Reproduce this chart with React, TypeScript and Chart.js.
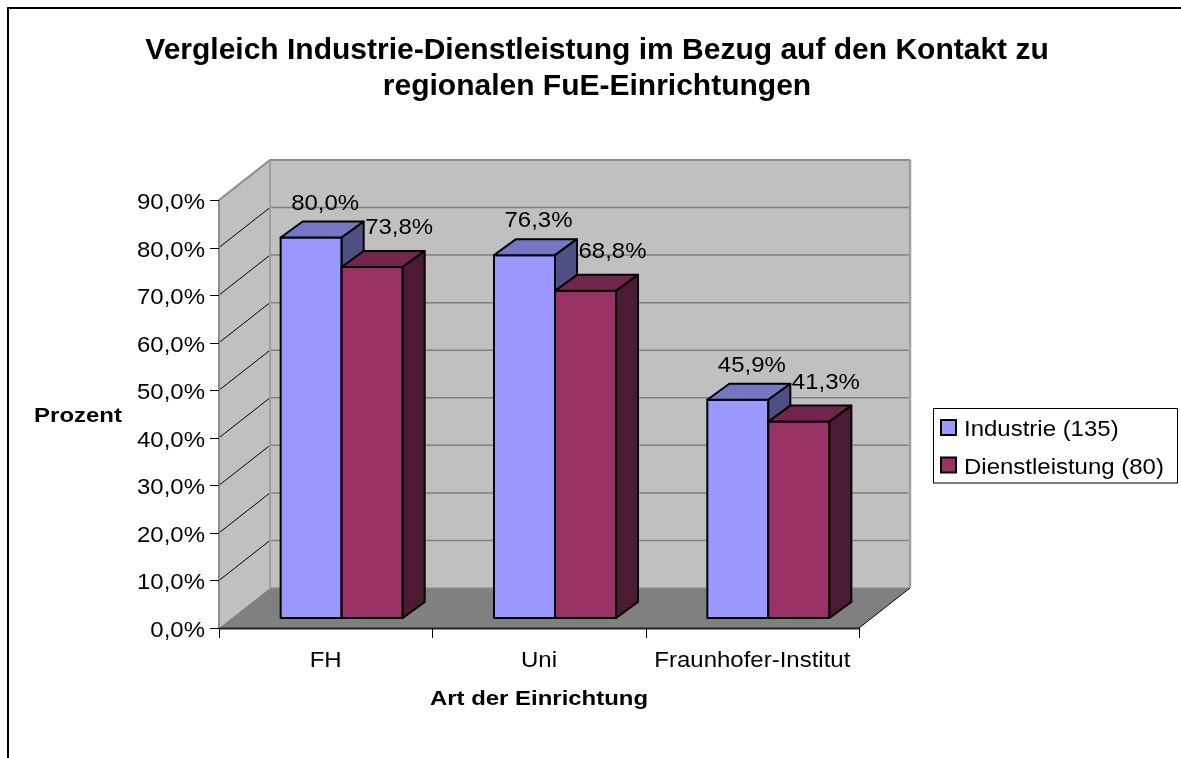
import React, { useEffect, useRef } from 'react';
import { Chart, registerables } from 'chart.js';

Chart.register(...registerables);

// ---------------- data ----------------
const TITLE_LINES = [
  'Vergleich Industrie-Dienstleistung im Bezug auf den Kontakt zu',
  'regionalen FuE-Einrichtungen',
];
const CATEGORIES = ['FH', 'Uni', 'Fraunhofer-Institut'];
const SERIES_NAMES = ['Industrie (135)', 'Dienstleistung (80)'];
const INDUSTRIE = [80.0, 76.3, 45.9];
const DIENSTLEISTUNG = [73.8, 68.8, 41.3];
const Y_MIN = 0;
const Y_MAX = 90;
const Y_STEP = 10;
const X_TITLE = 'Art der Einrichtung';
const Y_TITLE = 'Prozent';

// ---------------- style ----------------
const W = 1181;
const H = 758;
const FONT = '"Liberation Sans", Arial, Helvetica, sans-serif';
const FACES = [
  { front: '#9999FF', top: '#7676C4', side: '#4F4F85' },
  { front: '#993366', top: '#73264C', side: '#4B1A33' },
];
const WALL = '#C0C0C0';
const FLOOR = '#808080';
const WALL_EDGE = '#8C8C8C';
const DEPTH_X = 51;
const DEPTH_Y = -40;
const BAR_SHIFT_X = 16;
const BAR_SHIFT_Y = -10;
const BAR_DEPTH_X = 22;
const BAR_DEPTH_Y = -16;
const LABEL_DX = [14, 27];
const LABEL_DY = [-28, -33];
const TEXT_SIZE = 22;
const TEXT_SX = 1.09;

const fmt = (v: number) => v.toFixed(1).replace('.', ',') + '%';

function drawText(
  ctx: CanvasRenderingContext2D,
  s: string,
  x: number,
  y: number,
  size: number,
  bold: boolean,
  align: 'left' | 'center' | 'right',
  sx: number
) {
  ctx.save();
  ctx.font = `${bold ? 'bold ' : ''}${size}px ${FONT}`;
  ctx.fillStyle = '#000';
  ctx.textBaseline = 'alphabetic';
  ctx.textAlign = 'left';
  const w = ctx.measureText(s).width * sx;
  const x0 = align === 'center' ? x - w / 2 : align === 'right' ? x - w : x;
  ctx.translate(x0, y);
  ctx.scale(sx, 1);
  ctx.fillText(s, 0, 0);
  ctx.restore();
}

function poly(
  ctx: CanvasRenderingContext2D,
  pts: number[][],
  fill: string | null,
  stroke: string | null,
  lw = 1
) {
  ctx.beginPath();
  pts.forEach((p, i) => (i === 0 ? ctx.moveTo(p[0], p[1]) : ctx.lineTo(p[0], p[1])));
  ctx.closePath();
  if (fill) {
    ctx.fillStyle = fill;
    ctx.fill();
  }
  if (stroke) {
    ctx.strokeStyle = stroke;
    ctx.lineWidth = lw;
    ctx.lineJoin = 'round';
    ctx.stroke();
  }
}

function line(
  ctx: CanvasRenderingContext2D,
  x1: number,
  y1: number,
  x2: number,
  y2: number,
  color: string,
  lw: number
) {
  ctx.beginPath();
  ctx.moveTo(x1, y1);
  ctx.lineTo(x2, y2);
  ctx.strokeStyle = color;
  ctx.lineWidth = lw;
  ctx.stroke();
}

const threeD = {
  id: 'threeD',
  beforeDatasetsDraw(chart: any) {
    const ctx: CanvasRenderingContext2D = chart.ctx;
    const a = chart.chartArea;
    const xs = chart.scales.x;
    const ys = chart.scales.y;
    ctx.save();
    // back wall
    ctx.fillStyle = WALL;
    ctx.fillRect(a.left + DEPTH_X, a.top + DEPTH_Y, a.right - a.left, a.bottom - a.top);
    // side wall
    poly(ctx, [
      [a.left, a.top],
      [a.left + DEPTH_X, a.top + DEPTH_Y],
      [a.left + DEPTH_X, a.bottom + DEPTH_Y],
      [a.left, a.bottom],
    ], WALL, null);
    // floor
    poly(ctx, [
      [a.left, a.bottom],
      [a.left + DEPTH_X, a.bottom + DEPTH_Y],
      [a.right + DEPTH_X, a.bottom + DEPTH_Y],
      [a.right, a.bottom],
    ], FLOOR, null);
    // grid lines
    ys.ticks.forEach((t: any) => {
      const v = t.value;
      if (v <= Y_MIN || v >= Y_MAX) return;
      const py = ys.getPixelForValue(v);
      line(ctx, a.left + DEPTH_X, py + DEPTH_Y, a.right + DEPTH_X, py + DEPTH_Y, '#808080', 1.5);
      line(ctx, a.left, py, a.left + DEPTH_X, py + DEPTH_Y, '#000', 1);
    });
    // wall edges
    const top = a.top + DEPTH_Y;
    line(ctx, a.left + DEPTH_X, top, a.right + DEPTH_X, top, WALL_EDGE, 2);
    line(ctx, a.right + DEPTH_X, top, a.right + DEPTH_X, a.bottom + DEPTH_Y, '#A0A0A0', 2.5);
    line(ctx, a.left + DEPTH_X, top, a.left + DEPTH_X, a.bottom + DEPTH_Y, '#A0A0A0', 2);
    line(ctx, a.left, a.top, a.left + DEPTH_X, top, WALL_EDGE, 2);
    line(ctx, a.left, a.top, a.left, a.bottom, WALL_EDGE, 2);
    line(ctx, a.left + DEPTH_X, a.bottom + DEPTH_Y, a.right + DEPTH_X, a.bottom + DEPTH_Y, '#8A8A8A', 1);
    // floor edges
    line(ctx, a.right, a.bottom, a.right + DEPTH_X, a.bottom + DEPTH_Y, '#000', 1);
    line(ctx, a.left, a.bottom + 0.5, a.right, a.bottom + 0.5, '#202020', 2);
    // y ticks
    ys.ticks.forEach((t: any) => {
      const py = Math.round(ys.getPixelForValue(t.value)) + 0.5;
      line(ctx, a.left - 9, py, a.left, py, '#000', 1);
      drawText(ctx, fmt(t.value), a.left - 14, py + 8, TEXT_SIZE, false, 'right', TEXT_SX);
    });
    // x ticks (category boundaries)
    for (let i = 0; i <= CATEGORIES.length; i++) {
      const px = Math.round(xs.getPixelForValue(i - 0.5)) + 0.5;
      line(ctx, px, a.bottom, px, a.bottom + 10, '#000', 1);
    }
    CATEGORIES.forEach((c, i) => {
      drawText(ctx, c, xs.getPixelForValue(i), a.bottom + 38.5, TEXT_SIZE, false, 'center', TEXT_SX);
    });
    // axis titles
    drawText(ctx, X_TITLE, (a.left + a.right) / 2, a.bottom + 77, 21, true, 'center', 1.14);
    drawText(ctx, Y_TITLE, 78, (a.top + a.bottom) / 2 + 7.5, 21, true, 'center', 1.14);

    // bars
    const n = CATEGORIES.length;
    for (let i = 0; i < n; i++) {
      chart.data.datasets.forEach((ds: any, di: number) => {
        const el = chart.getDatasetMeta(di).data[i];
        const p = el.getProps(['x', 'y', 'base', 'width'], true);
        const L = p.x - p.width / 2 + BAR_SHIFT_X;
        const R = p.x + p.width / 2 + BAR_SHIFT_X;
        const T = p.y + BAR_SHIFT_Y;
        const B = p.base + BAR_SHIFT_Y;
        const f = FACES[di];
        poly(ctx, [[L, T], [R, T], [R, B], [L, B]], f.front, '#000', 2);
        poly(ctx, [[L, T], [L + BAR_DEPTH_X, T + BAR_DEPTH_Y], [R + BAR_DEPTH_X, T + BAR_DEPTH_Y], [R, T]], f.top, '#000', 2);
        poly(ctx, [[R, T], [R + BAR_DEPTH_X, T + BAR_DEPTH_Y], [R + BAR_DEPTH_X, B + BAR_DEPTH_Y], [R, B]], f.side, '#000', 2);
      });
    }
    // data labels
    chart.data.datasets.forEach((ds: any, di: number) => {
      chart.getDatasetMeta(di).data.forEach((el: any, i: number) => {
        const p = el.getProps(['x', 'y'], true);
        drawText(
          ctx,
          fmt(ds.data[i]),
          p.x + BAR_SHIFT_X + LABEL_DX[di],
          p.y + BAR_SHIFT_Y + LABEL_DY[di],
          TEXT_SIZE,
          false,
          'center',
          TEXT_SX
        );
      });
    });
    ctx.restore();
    return false;
  },
  afterDraw(chart: any) {
    const ctx: CanvasRenderingContext2D = chart.ctx;
    ctx.save();
    // outer frame
    line(ctx, 8, 8, W + 10, 8, '#000', 2);
    line(ctx, 8, 7, 8, H + 10, '#000', 2);
    // title
    drawText(ctx, TITLE_LINES[0], 597, 58.5, 30, true, 'center', 1);
    drawText(ctx, TITLE_LINES[1], 597, 95, 30, true, 'center', 1);
    // legend
    ctx.fillStyle = '#fff';
    ctx.fillRect(933.5, 408.5, 244, 74.5);
    ctx.strokeStyle = '#000';
    ctx.lineWidth = 1;
    ctx.strokeRect(933.5, 408.5, 244, 74.5);
    chart.data.datasets.forEach((ds: any, di: number) => {
      const yTop = 420 + di * 37.5;
      ctx.fillStyle = ds.backgroundColor;
      ctx.fillRect(941, yTop, 15, 15);
      ctx.strokeStyle = '#000';
      ctx.lineWidth = 2;
      ctx.strokeRect(941, yTop, 15, 15);
      drawText(ctx, ds.label, 964, yTop + 16, TEXT_SIZE, false, 'left', TEXT_SX);
    });
    ctx.restore();
  },
};

export default function App() {
  const ref = useRef<HTMLCanvasElement>(null);
  useEffect(() => {
    if (!ref.current) return;
    const chart = new Chart(ref.current, {
      type: 'bar',
      data: {
        labels: CATEGORIES,
        datasets: [
          { label: SERIES_NAMES[0], data: INDUSTRIE, backgroundColor: FACES[0].front },
          { label: SERIES_NAMES[1], data: DIENSTLEISTUNG, backgroundColor: FACES[1].front },
        ],
      },
      options: {
        responsive: false,
        animation: false,
        events: [],
        layout: { padding: { left: 0, top: 200, right: W - 859, bottom: 0 } },
        datasets: { bar: { categoryPercentage: 0.572, barPercentage: 1 } },
        plugins: { legend: { display: false }, title: { display: false }, tooltip: { enabled: false } },
        scales: {
          x: {
            offset: true,
            grid: { display: false },
            border: { display: false },
            ticks: { display: false },
            afterFit: (s: any) => {
              s.height = H - 628;
            },
          },
          y: {
            min: Y_MIN,
            max: Y_MAX,
            ticks: { stepSize: Y_STEP, display: false },
            grid: { display: false },
            border: { display: false },
            afterFit: (s: any) => {
              s.width = 219;
            },
          },
        },
      },
      plugins: [threeD],
    } as any);
    return () => chart.destroy();
  }, []);
  return (
    <div style={{ position: 'fixed', left: 0, top: 0, width: W, height: H, background: '#fff' }}>
      <canvas ref={ref} width={W} height={H} style={{ width: W, height: H, display: 'block' }} />
    </div>
  );
}
